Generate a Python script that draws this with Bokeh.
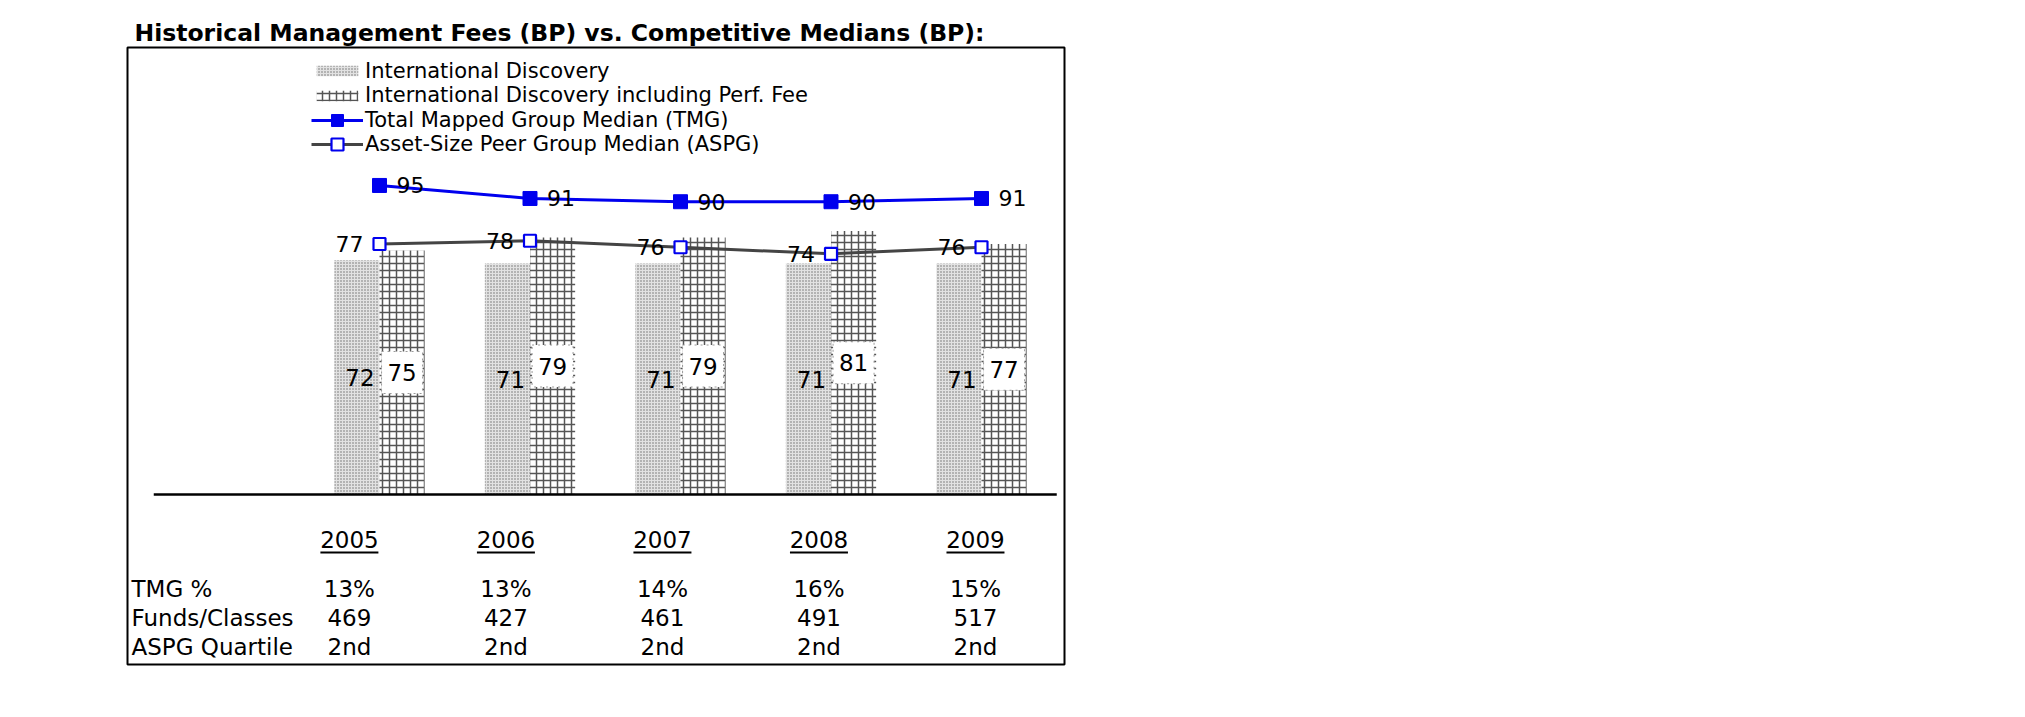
from bokeh.plotting import figure
from bokeh.models import Range1d, ColumnDataSource, Legend, LegendItem
from bokeh.core.properties import value
from bokeh.transform import dodge
from bokeh.embed import file_html
from bokeh.resources import INLINE

# ---------------- data ----------------
years = ["2005", "2006", "2007", "2008", "2009"]
intl_discovery = [72, 71, 71, 71, 71]
intl_discovery_perf = [75, 79, 79, 81, 77]
tmg_median = [95, 91, 90, 90, 91]
aspg_median = [77, 78, 76, 74, 76]
row_labels = ["TMG %", "Funds/Classes", "ASPG Quartile"]
tmg_pct = ["13%", "13%", "14%", "16%", "15%"]
funds_classes = ["469", "427", "461", "491", "517"]
aspg_quartile = ["2nd", "2nd", "2nd", "2nd", "2nd"]

# ---------------- layout (page pixels) ----------------
FONT = "DejaVu Sans"
PAGE = 0
FL, FR, FT, FB = 127, 1064, 47, 664      # boxed frame
AXIS_Y = 494                            # pixel row of value 0
X0, DX = 379, 150.5                     # pixel of first category, px per category
PPU = 3.253                             # px per basis point

W = FR + 4 - PAGE
H = FB + 4 - PAGE
x_start, x_end = (FL - X0) / DX, (FR - X0) / DX
y_start, y_end = -(FB - AXIS_Y) / PPU, (AXIS_Y - FT) / PPU


def py(px):
    """pixel row -> data y"""
    return (AXIS_Y - px) / PPU


p = figure(width=W, height=H,
           x_range=Range1d(x_start, x_end), y_range=Range1d(y_start, y_end),
           x_axis_location=None, y_axis_location=None,
           output_backend="svg", toolbar_location=None,
           min_border_left=FL - PAGE, min_border_right=4,
           min_border_top=FT - PAGE, min_border_bottom=4)
p.grid.visible = False
p.outline_line_color = "black"
p.outline_line_width = 2
p.background_fill_color = "white"
p.border_fill_color = "white"

p.title.text = "Historical Management Fees (BP) vs. Competitive Medians (BP):"
p.title.text_font = FONT
p.title.text_font_style = "bold"
p.title.text_font_size = "23.5px"
p.title.text_color = "black"
p.title.align = "left"
p.title.offset = 7
p.title.standoff = 2

n = len(years)
idx = list(range(n))
src = ColumnDataSource(dict(
    x=idx,
    idv=intl_discovery,
    perf=intl_discovery_perf,
    tmg=tmg_median,
    aspg=aspg_median,
    idv_half=[v / 2 for v in intl_discovery],
    perf_half=[v / 2 for v in intl_discovery_perf],
    idv_txt=[str(v) for v in intl_discovery],
    perf_txt=[str(v) for v in intl_discovery_perf],
    tmg_txt=[str(v) for v in tmg_median],
    aspg_txt=[str(v) for v in aspg_median],
))

BW = 0.3
r_idv = p.vbar(x=dodge("x", -BW / 2, range=p.x_range), top="idv", width=BW, source=src,
               fill_color="#e2e2e2", line_color=None,
               hatch_pattern="dot", hatch_color="#6a6a6a", hatch_scale=3, hatch_weight=1)
r_perf = p.vbar(x=dodge("x", BW / 2, range=p.x_range), top="perf", width=BW, source=src,
                fill_color="white", line_color=None,
                hatch_pattern="cross", hatch_color="#555555", hatch_scale=7, hatch_weight=1.5)

# value labels inside bars
p.text(x=dodge("x", -BW / 2, range=p.x_range), y="idv_half", text="idv_txt", source=src,
       x_offset=3, text_align="center", text_baseline="middle",
       text_font=value(FONT), text_font_size=value("23px"), text_color="black")
p.rect(x=dodge("x", BW / 2, range=p.x_range), y="perf_half", width=41, height=42,
       width_units="screen", height_units="screen", source=src,
       fill_color="white", line_color="#9a9a9a", line_dash="dotted", line_width=1)
p.text(x=dodge("x", BW / 2, range=p.x_range), y="perf_half", text="perf_txt", source=src,
       text_align="center", text_baseline="middle",
       text_font=value(FONT), text_font_size=value("23px"), text_color="black")

# axis line
p.segment(x0=[-1.5], y0=[0], x1=[n - 0.5], y1=[0], line_color="black", line_width=2.5)

# median lines
r_aspg_l = p.line("x", "aspg", source=src, line_color="#444444", line_width=3)
r_aspg_m = p.scatter("x", "aspg", source=src, marker="square", size=12,
                     fill_color="white", line_color="#0000ee", line_width=2.2)
r_tmg_l = p.line("x", "tmg", source=src, line_color="#0000ee", line_width=3)
r_tmg_m = p.scatter("x", "tmg", source=src, marker="square", size=14,
                    fill_color="#0000ee", line_color="#0000ee")

p.text(x="x", y="tmg", text="tmg_txt", source=src, x_offset=17,
       text_align="left", text_baseline="middle",
       text_font=value(FONT), text_font_size=value("22px"), text_color="black")
p.text(x="x", y="aspg", text="aspg_txt", source=src, x_offset=-16,
       text_align="right", text_baseline="middle",
       text_font=value(FONT), text_font_size=value("22px"), text_color="black")

# ---------------- table under the chart ----------------
col_x = [i * 1.04 - 0.2 for i in idx]
TXT = dict(text_font=value(FONT), text_font_size=value("23px"), text_color="black",
           text_baseline="middle")
p.text(x=col_x, y=[py(539)] * n, text=years, text_align="center", **TXT)
p.rect(x=col_x, y=[py(552)] * n, width=58, height=2, width_units="screen",
       height_units="screen", fill_color="black", line_color=None)
row_px = [588, 617, 646]
for rpx, vals in zip(row_px, [tmg_pct, funds_classes, aspg_quartile]):
    p.text(x=col_x, y=[py(rpx)] * n, text=vals, text_align="center", **TXT)
p.text(x=[x_start] * 3, y=[py(r) for r in row_px], text=row_labels, x_offset=4,
       text_align="left", **TXT)

# ---------------- legend ----------------
leg_rows = [
    ("International Discovery", [r_idv], 70.5, 13),
    ("International Discovery including Perf. Fee", [r_perf], 95, 13),
    ("Total Mapped Group Median (TMG)", [r_tmg_l, r_tmg_m], 119.5, 30),
    ("Asset-Size Peer Group Median (ASPG)", [r_aspg_l, r_aspg_m], 144, 30),
]
LEG_H = 30
for label, rends, cy, gh in leg_rows:
    leg = Legend(items=[LegendItem(label=label, renderers=rends)],
                 location=(311 - FL, FB - (cy + LEG_H / 2)),
                 glyph_width=52, glyph_height=gh, label_height=LEG_H,
                 label_standoff=2, padding=0, margin=0, spacing=0,
                 border_line_color=None, background_fill_alpha=0,
                 label_text_font=FONT, label_text_font_size="21px",
                 label_text_color="black")
    p.add_layout(leg)

open("out.html", "w").write(file_html(p, INLINE))
